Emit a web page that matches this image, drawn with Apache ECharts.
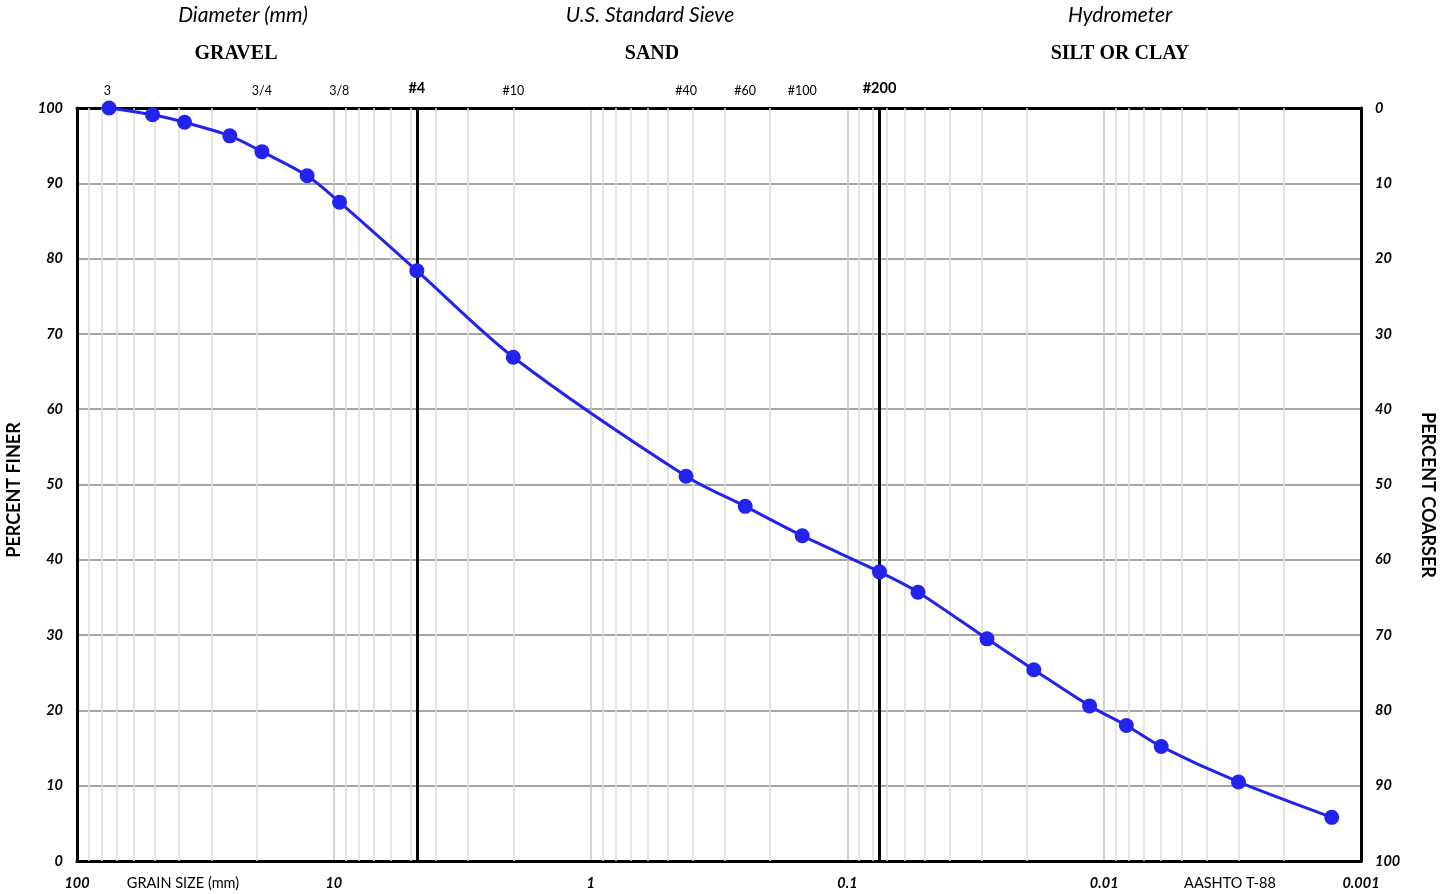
<!DOCTYPE html>
<html>
<head>
<meta charset="utf-8">
<script src="https://cdn.jsdelivr.net/npm/echarts@6/dist/echarts.min.js"></script>
<style>html,body{margin:0;padding:0;background:#fff;}#c{width:1450px;height:894px;}</style>
</head>
<body>
<div id="c"></div>
<script>
// Grain size data (mm) and percent finer
const grainSize = [75, 50.8, 38.1, 25.4, 19.05, 12.7, 9.5, 4.75, 2.0, 0.425, 0.25, 0.15, 0.075, 0.0531, 0.0286, 0.0188, 0.0114, 0.0082, 0.0060, 0.0030, 0.0013];
const percentFiner = [100, 99.1, 98.1, 96.3, 94.2, 91.0, 87.5, 78.4, 66.9, 51.1, 47.1, 43.2, 38.4, 35.7, 29.5, 25.4, 20.6, 18.0, 15.2, 10.5, 5.8];

// Sieve labels along the top
const sieveLabels = ['3', '3/4', '3/8', '#4', '#10', '#40', '#60', '#100', '#200'];
const sieveSizes = [76.2, 19.05, 9.525, 4.75, 2.0, 0.425, 0.25, 0.15, 0.075];
const boundarySieves = ['#4', '#200'];

// Axis tick labels
const xTickLabels = ['100', '10', '1', '0.1', '0.01', '0.001'];
const yTicks = [0, 10, 20, 30, 40, 50, 60, 70, 80, 90, 100];

const FONT = 'Lato, "Open Sans", sans-serif';

// minor log gridlines (2..9 within each decade)
const minorLines = [];
for (let e = -3; e < 2; e++) {
  for (let m = 2; m <= 9; m++) {
    minorLines.push({ xAxis: m * Math.pow(10, e) });
  }
}

const sieveMarks = sieveLabels.map((lab, i) => {
  const bold = boundarySieves.indexOf(lab) >= 0;
  return {
    xAxis: sieveSizes[i],
    lineStyle: bold ? { color: '#000', width: 3, type: 'solid' } : { color: 'rgba(0,0,0,0)', width: 0 },
    label: {
      show: true,
      position: 'end',
      formatter: lab,
      distance: bold ? 12 : 11,
      fontFamily: FONT,
      fontSize: bold ? 14.5 : 12.5,
      fontWeight: bold ? 'bold' : 'normal',
      color: '#000'
    }
  };
});

function fmtX(v) {
  const e = Math.round(Math.log10(v));
  const idx = 2 - e;
  return xTickLabels[idx] !== undefined ? xTickLabels[idx] : '';
}

const chart = echarts.init(document.getElementById('c'), null, { renderer: 'canvas' });
const option = {
  animation: false,
  backgroundColor: '#fff',
  grid: { left: 77, right: 89, top: 108, bottom: 33, containLabel: false },
  xAxis: [
    {
      type: 'log', logBase: 10, min: 0.001, max: 100, inverse: true,
      position: 'bottom',
      axisLine: { show: true, onZero: false, lineStyle: { color: '#000', width: 3 } },
      axisTick: { show: false },
      axisLabel: { show: true, margin: 15, formatter: fmtX, fontFamily: FONT, fontSize: 14.5, fontWeight: 'bold', fontStyle: 'italic', color: '#000', showMinLabel: true, showMaxLabel: true },
      splitLine: { show: true, lineStyle: { color: '#c4c4c4', width: 1.5 } },
      minorTick: { show: false },
      minorSplitLine: { show: false }
    },
    {
      type: 'log', logBase: 10, min: 0.001, max: 100, inverse: true,
      position: 'top',
      axisLine: { show: true, onZero: false, lineStyle: { color: '#000', width: 3 } },
      axisTick: { show: false },
      axisLabel: { show: false },
      splitLine: { show: false }
    }
  ],
  yAxis: [
    {
      type: 'value', min: 0, max: 100, interval: 10, position: 'left',
      axisLine: { show: true, onZero: false, lineStyle: { color: '#000', width: 3 } },
      axisTick: { show: false },
      axisLabel: { margin: 14, fontFamily: FONT, fontSize: 14.5, fontWeight: 'bold', fontStyle: 'italic', color: '#000',
        formatter: v => (yTicks.indexOf(v) >= 0 ? String(v) : '') },
      splitLine: { show: true, lineStyle: { color: '#a6a6a6', width: 2 } }
    },
    {
      type: 'value', min: 0, max: 100, interval: 10, position: 'right', inverse: true,
      axisLine: { show: true, onZero: false, lineStyle: { color: '#000', width: 3 } },
      axisTick: { show: false },
      axisLabel: { margin: 14, fontFamily: FONT, fontSize: 14.5, fontWeight: 'bold', fontStyle: 'italic', color: '#000',
        formatter: v => (yTicks.indexOf(v) >= 0 ? String(v) : '') },
      splitLine: { show: false }
    }
  ],
  series: [
    {
      name: 'minor', type: 'scatter', data: [], z: 1, silent: true,
      markLine: {
        silent: true, symbol: ['none', 'none'], animation: false, precision: 8,
        label: { show: false },
        lineStyle: { color: '#dcdcdc', width: 1.5, type: 'solid' },
        data: minorLines
      }
    },
    {
      name: 'sieves', type: 'scatter', data: [], z: 3, silent: true,
      markLine: {
        silent: true, symbol: ['none', 'none'], animation: false, precision: 8,
        lineStyle: { type: 'solid' },
        data: sieveMarks
      }
    },
    {
      name: 'Percent Finer', type: 'line', z: 5,
      data: grainSize.map((g, i) => [g, percentFiner[i]]),
      smooth: 0.3,
      symbol: 'circle', symbolSize: 15,
      lineStyle: { color: '#2323ee', width: 3 },
      itemStyle: { color: '#2323ee' }
    }
  ],
  graphic: [
    { type: 'text', x: 243, y: 15, style: { text: 'Diameter (mm)', font: 'italic 21px ' + FONT, fill: '#000', textAlign: 'center', textVerticalAlign: 'middle' } },
    { type: 'text', x: 650, y: 15, style: { text: 'U.S. Standard Sieve', font: 'italic 21px ' + FONT, fill: '#000', textAlign: 'center', textVerticalAlign: 'middle' } },
    { type: 'text', x: 1120, y: 15, style: { text: 'Hydrometer', font: 'italic 21px ' + FONT, fill: '#000', textAlign: 'center', textVerticalAlign: 'middle' } },
    { type: 'text', x: 236, y: 54, style: { text: 'GRAVEL', font: 'bold 20px "Liberation Serif", serif', fill: '#000', textAlign: 'center', textVerticalAlign: 'middle' } },
    { type: 'text', x: 652, y: 54, style: { text: 'SAND', font: 'bold 20px "Liberation Serif", serif', fill: '#000', textAlign: 'center', textVerticalAlign: 'middle' } },
    { type: 'text', x: 1120, y: 54, style: { text: 'SILT OR CLAY', font: 'bold 20px "Liberation Serif", serif', fill: '#000', textAlign: 'center', textVerticalAlign: 'middle' } },
    { type: 'text', x: 183, y: 883, style: { text: 'GRAIN SIZE (mm)', font: '14.5px ' + FONT, fill: '#000', textAlign: 'center', textVerticalAlign: 'middle' } },
    { type: 'text', x: 1230, y: 883, style: { text: 'AASHTO T-88', font: '14.5px ' + FONT, fill: '#000', textAlign: 'center', textVerticalAlign: 'middle' } },
    { type: 'text', x: 14, y: 490, rotation: Math.PI / 2, style: { text: 'PERCENT FINER', font: 'bold 18px ' + FONT, fill: '#000', textAlign: 'center', textVerticalAlign: 'middle' } },
    { type: 'text', x: 1428, y: 495, rotation: -Math.PI / 2, style: { text: 'PERCENT COARSER', font: 'bold 18px ' + FONT, fill: '#000', textAlign: 'center', textVerticalAlign: 'middle' } }
  ]
};
chart.setOption(option);
</script>
</body>
</html>
